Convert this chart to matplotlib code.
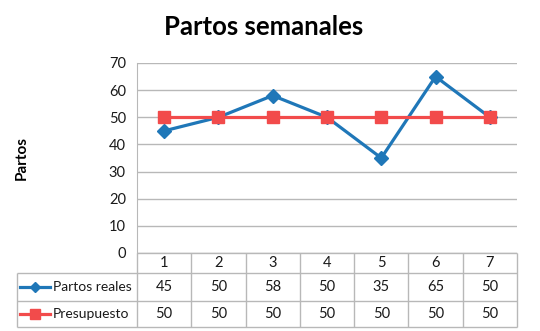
import matplotlib
matplotlib.use("Agg")
import matplotlib.pyplot as plt

plt.rcParams['font.family'] = ['Lato', 'DejaVu Sans']

weeks = [1, 2, 3, 4, 5, 6, 7]
partos_reales = [45, 50, 58, 50, 35, 65, 50]
presupuesto = [50, 50, 50, 50, 50, 50, 50]
series_names = ["Partos reales", "Presupuesto"]
title = "Partos semanales"
ylabel = "Partos"
yticks = [0, 10, 20, 30, 40, 50, 60, 70]

BLUE = "#1f77b8"
RED = "#f24b4b"
GRID = "#b8b8b8"
TXT = "#1a1a1a"

W, H = 540, 331
fig = plt.figure(figsize=(W / 100, H / 100), dpi=100)

def fr(x0, y0, x1, y1):
    return [x0 / W, 1 - y1 / H, (x1 - x0) / W, (y1 - y0) / H]

# main plot
ax = fig.add_axes(fr(137, 63, 517, 253))
ax.set_xlim(0.5, 7.5)
ax.set_ylim(0, 70)
ax.set_yticks(yticks)
ax.set_xticks([])
ax.grid(axis='y', color=GRID, linewidth=1)
ax.set_axisbelow(True)
for s in ['top', 'right', 'bottom']:
    ax.spines[s].set_visible(False)
ax.spines['left'].set_color(GRID)
ax.tick_params(axis='y', length=0, labelsize=10.5, colors=TXT, pad=8)
ax.plot(weeks, partos_reales, color=BLUE, lw=2.3, marker='D', ms=7.5, zorder=3)
ax.plot(weeks, presupuesto, color=RED, lw=2.3, marker='s', ms=8.5, zorder=4)

fig.text(264 / W, 1 - 27 / H, title, ha='center', va='center',
         fontsize=18.5, fontweight='bold', color='black')
fig.text(22 / W, 1 - 158 / H, ylabel, ha='center', va='center', rotation=90,
         fontsize=11, fontweight='bold', color='black')

# data table
colw = 380 / 7
left_ext = (137 - 17) / colw
tax = fig.add_axes(fr(17, 253, 517, 327))
tax.set_xlim(0.5 - left_ext, 7.5)
tax.set_ylim(0, 74)
tax.axis('off')
xl = 0.5 - left_ext
rows = [74, 54, 26, 0]
lk = dict(color=GRID, lw=1, solid_capstyle='butt', clip_on=False)
tax.plot([0.5, 7.5], [rows[0]] * 2, **lk)
for r in rows[1:]:
    tax.plot([xl, 7.5], [r, r], **lk)
tax.plot([xl, xl], [rows[1], rows[3]], **lk)
for i in range(8):
    tax.plot([0.5 + i] * 2, [rows[0], rows[3]], **lk)

fs = 10.5
for w in weeks:
    tax.text(w, (rows[0] + rows[1]) / 2, str(w), ha='center', va='center',
             fontsize=fs, color=TXT)
for vals, (ytop, ybot) in zip([partos_reales, presupuesto],
                              [(rows[1], rows[2]), (rows[2], rows[3])]):
    yc = (ytop + ybot) / 2
    for w, v in zip(weeks, vals):
        tax.text(w, yc, str(v), ha='center', va='center', fontsize=fs, color=TXT)

# legend keys
lx0 = xl + 3 / colw
lx1 = xl + 33 / colw
for name, color, mk, ms, (ytop, ybot) in [
        (series_names[0], BLUE, 'D', 5, (rows[1], rows[2])),
        (series_names[1], RED, 's', 7, (rows[2], rows[3]))]:
    yc = (ytop + ybot) / 2
    tax.plot([lx0, lx1], [yc, yc], color=color, lw=2.3, clip_on=False)
    tax.plot([(lx0 + lx1) / 2], [yc], marker=mk, color=color, ms=ms, clip_on=False)
    tax.text(xl + 36 / colw, yc, name, ha='left', va='center', fontsize=10, color=TXT)

fig.savefig("out.png", dpi=100, facecolor='white')
